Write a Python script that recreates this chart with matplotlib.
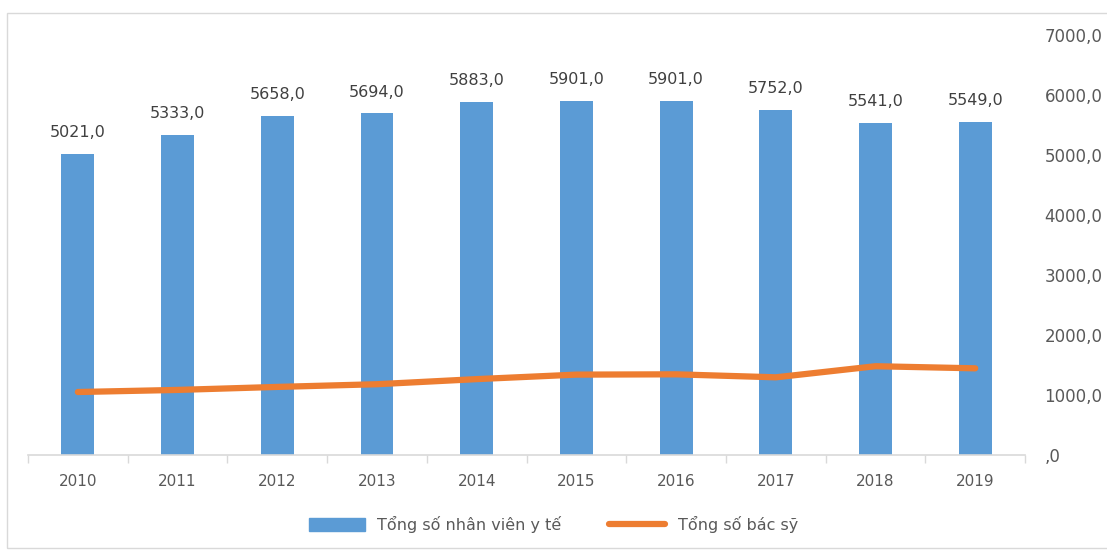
import matplotlib.pyplot as plt
from matplotlib.patches import Rectangle

years = ['2010', '2011', '2012', '2013', '2014', '2015', '2016', '2017', '2018', '2019']
nhan_vien = [5021, 5333, 5658, 5694, 5883, 5901, 5901, 5752, 5541, 5549]
bac_sy = [1050, 1085, 1135, 1180, 1265, 1340, 1345, 1295, 1480, 1445]
y_ticks = [0, 1000, 2000, 3000, 4000, 5000, 6000, 7000]
y_labels = [',0', '1000,0', '2000,0', '3000,0', '4000,0', '5000,0', '6000,0', '7000,0']

blue = '#5B9BD5'
orange = '#ED7D31'
grey_txt = '#595959'

plt.rcParams['font.family'] = ['DejaVu Sans']

fig = plt.figure(figsize=(11.07, 5.5), dpi=100)
ax = fig.add_axes([0.0253, 0.1727, 0.9007, 0.7636])

x = list(range(len(years)))
ax.bar(x, nhan_vien, width=0.33, color=blue, zorder=2)
ax.plot(x, bac_sy, color=orange, lw=4.5, solid_capstyle='round',
        solid_joinstyle='round', zorder=3)

for xi, v in zip(x, nhan_vien):
    ax.annotate(f'{v},0', (xi, v), xytext=(0, 10), textcoords='offset points',
                ha='center', va='bottom', fontsize=11.5, color='#404040')

ax.set_xlim(-0.5, len(years) - 0.5)
ax.set_ylim(0, 7000)
ax.set_xticks(x)
ax.set_xticklabels(years)
ax.set_xticks([i - 0.5 for i in range(len(years) + 1)], minor=True)
ax.tick_params(axis='x', which='major', length=0, pad=14, labelsize=11,
               labelcolor=grey_txt)
ax.tick_params(axis='x', which='minor', length=6, color='#D9D9D9', width=1)

ax.yaxis.tick_right()
ax.set_yticks(y_ticks)
ax.set_yticklabels(y_labels)
ax.tick_params(axis='y', length=0, pad=14, labelsize=12, labelcolor=grey_txt)
for lab in ax.get_yticklabels():
    lab.set_horizontalalignment('left')

for s in ['top', 'left', 'right']:
    ax.spines[s].set_visible(False)
ax.spines['bottom'].set_color('#D9D9D9')
ax.spines['bottom'].set_linewidth(1.2)

# legend
h1 = Rectangle((0, 0), 1, 1, color=blue)
h2, = ax.plot([], [], color=orange, lw=4.5, solid_capstyle='round')
fig.legend([h1, h2], ['Tổng số nhân viên y tế', 'Tổng số bác sỹ'],
           loc='center', bbox_to_anchor=(0.5, 0.047), ncol=2, frameon=False,
           fontsize=11.5, labelcolor=grey_txt, handlelength=3.5,
           handleheight=0.9, columnspacing=3.0)

# outer frame
fig.add_artist(Rectangle((0.006, 0.004), 1.2, 0.973, transform=fig.transFigure,
                         fill=False, edgecolor='#D9D9D9', lw=1))

fig.savefig('out.png', dpi=100)
